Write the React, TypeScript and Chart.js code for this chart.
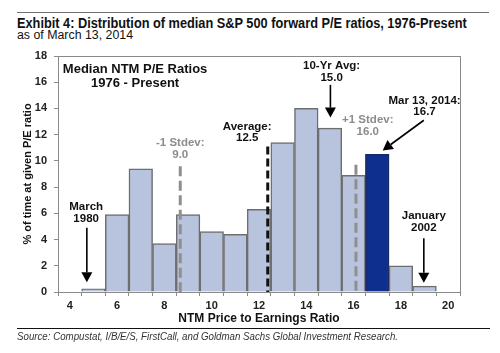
import React, { useEffect, useRef } from "react";
import { Chart, registerables } from "chart.js";

Chart.register(...registerables);

// ---- data ----
const categories = ["4", "5", "6", "7", "8", "9", "10", "11", "12", "13", "14", "15", "16", "17", "18", "19", "20"];
const pctOfTime = [0, 0.25, 5.9, 9.4, 3.7, 5.9, 4.6, 4.4, 6.3, 11.4, 14.0, 12.5, 8.9, 10.5, 2.0, 0.45, 0];
const highlightCategory = "17";
const yTicks = [0, 2, 4, 6, 8, 10, 12, 14, 16, 18];

// reference lines: P/E position and top value
const stdevLow = { at: 8.67, top: 9.6 };
const averageLine = { at: 12.37, top: 11.1 };
const stdevHigh = { at: 16.1, top: 9.7 };

// arrows: from (pe, value) to (pe, value)
const arrowMarch1980 = { from: [4.72, 4.9], to: [4.72, 0.75] };
const arrowTenYr = { from: [15.02, 15.8], to: [15.02, 13.3] };
const arrowMar2014 = { from: [18.97, 13.1], to: [17.23, 10.8] };
const arrowJan2002 = { from: [18.97, 4.1], to: [18.97, 0.7] };

// labels: lines, anchor (pe, value of first line)
const annotationLabels: { lines: string[]; at: [number, number]; gray?: boolean; big?: boolean }[] = [
  { lines: ["Median NTM P/E Ratios", "1976 - Present"], at: [6.76, 17.0], big: true },
  { lines: ["March", "1980"], at: [4.69, 6.48] },
  { lines: ["-1 Stdev:", "9.0"], at: [8.67, 11.37], gray: true },
  { lines: ["Average:", "12.5"], at: [11.5, 12.6] },
  { lines: ["10-Yr Avg:", "15.0"], at: [15.07, 17.24] },
  { lines: ["+1 Stdev:", "16.0"], at: [16.6, 13.12], gray: true },
  { lines: ["Mar 13, 2014:", "16.7"], at: [19.0, 14.6] },
  { lines: ["January", "2002"], at: [18.97, 5.8] },
];

const titleText = "Exhibit 4: Distribution of median S&P 500 forward P/E ratios, 1976-Present";
const subtitleText = "as of March 13, 2014";
const sourceText = "Source: Compustat, I/B/E/S, FirstCall, and Goldman Sachs Global Investment Research.";
const xTitle = "NTM Price to Earnings Ratio";
const yTitle = "% of time at given P/E ratio";

const FONT = "Arial, 'Liberation Sans', sans-serif";

const annotationPlugin = {
  id: "annotations",
  afterDatasetsDraw(chart: any) {
    const { ctx, chartArea, scales } = chart;
    const x = scales.x;
    const y = scales.y;
    const x0 = x.getPixelForValue(0);
    const step = x.getPixelForValue(1) - x0;
    const px = (pe: number) => x0 + (pe - 4) * step;
    const py = (v: number) => y.getPixelForValue(v);

    ctx.save();
    ctx.strokeStyle = "#8a8a8a";
    ctx.lineWidth = 1;
    ctx.strokeRect(chartArea.left + 0.5, chartArea.top + 0.5, chartArea.right - chartArea.left, chartArea.bottom - chartArea.top);

    const dashLine = (l: { at: number; top: number }, color: string, dash: number[]) => {
      ctx.beginPath();
      ctx.setLineDash(dash);
      ctx.strokeStyle = color;
      ctx.lineWidth = 3;
      ctx.moveTo(px(l.at), py(l.top));
      ctx.lineTo(px(l.at), py(0));
      ctx.stroke();
    };
    dashLine(stdevLow, "#8f8f8f", [10, 4.5]);
    dashLine(stdevHigh, "#8f8f8f", [10, 4.5]);
    dashLine(averageLine, "#111111", [8, 4]);
    ctx.setLineDash([]);

    const arrow = (a: { from: number[]; to: number[] }) => {
      const x1 = px(a.from[0]), y1 = py(a.from[1]);
      const x2 = px(a.to[0]), y2 = py(a.to[1]);
      const ang = Math.atan2(y2 - y1, x2 - x1);
      const head = 10;
      const bx = x2 - head * Math.cos(ang), by = y2 - head * Math.sin(ang);
      ctx.strokeStyle = "#000";
      ctx.fillStyle = "#000";
      ctx.lineWidth = 1.6;
      ctx.beginPath();
      ctx.moveTo(x1, y1);
      ctx.lineTo(bx, by);
      ctx.stroke();
      ctx.beginPath();
      ctx.moveTo(x2, y2);
      ctx.lineTo(bx + 5.5 * Math.cos(ang + Math.PI / 2), by + 5.5 * Math.sin(ang + Math.PI / 2));
      ctx.lineTo(bx + 5.5 * Math.cos(ang - Math.PI / 2), by + 5.5 * Math.sin(ang - Math.PI / 2));
      ctx.closePath();
      ctx.fill();
    };
    [arrowMarch1980, arrowTenYr, arrowMar2014, arrowJan2002].forEach(arrow);

    ctx.textAlign = "center";
    ctx.textBaseline = "middle";
    annotationLabels.forEach((lab) => {
      const size = lab.big ? 13 : 11.5;
      const lh = lab.big ? 14 : 11.5;
      ctx.font = `bold ${size}px ${FONT}`;
      ctx.fillStyle = lab.gray ? "#8c8c8c" : "#111";
      lab.lines.forEach((t, i) => {
        ctx.fillText(t, px(lab.at[0]), py(lab.at[1]) + i * lh);
      });
    });
    ctx.restore();
  },
};

function fitScale(text: string, font: string, target: number): number {
  const c = document.createElement("canvas").getContext("2d");
  if (!c) return 1;
  c.font = font;
  const w = c.measureText(text).width;
  return w > 0 ? target / w : 1;
}

export default function App() {
  const canvasRef = useRef<HTMLCanvasElement | null>(null);
  const titleRef = useRef<HTMLDivElement | null>(null);
  const subRef = useRef<HTMLDivElement | null>(null);
  const srcRef = useRef<HTMLDivElement | null>(null);

  useEffect(() => {
    document.body.style.margin = "0";
    if (titleRef.current) titleRef.current.style.transform = `scaleX(${fitScale(titleText, `bold 14px ${FONT}`, 450)})`;
    if (subRef.current) subRef.current.style.transform = `scaleX(${fitScale(subtitleText, `12px ${FONT}`, 116)})`;
    if (srcRef.current) srcRef.current.style.transform = `scaleX(${fitScale(sourceText, `italic 10px ${FONT}`, 381)})`;

    const canvas = canvasRef.current;
    if (!canvas) return;
    const chart = new Chart(canvas, {
      type: "bar",
      data: {
        labels: categories,
        datasets: [
          {
            data: pctOfTime,
            backgroundColor: categories.map((c) => (c === highlightCategory ? "#0f2f8e" : "#b8c4de")),
            borderColor: categories.map((c) => (c === highlightCategory ? "#1b2a5e" : "#6e6e6e")),
            borderWidth: 1.5,
            barPercentage: 1,
            categoryPercentage: 1,
          },
        ],
      },
      options: {
        animation: false,
        responsive: false,
        maintainAspectRatio: false,
        layout: { padding: { top: 56, right: 40, bottom: 25, left: 0 } },
        plugins: { legend: { display: false }, tooltip: { enabled: false } },
        scales: {
          x: {
            grid: { drawOnChartArea: false, drawTicks: true, tickLength: 4, color: "#8a8a8a" },
            border: { color: "#8a8a8a" },
            ticks: {
              autoSkip: false,
              maxRotation: 0,
              padding: 3,
              color: "#222",
              font: { family: FONT, size: 11, weight: "bold" },
              callback: (_v: any, i: number) => (i % 2 === 0 ? categories[i] : ""),
            },
            title: {
              display: true,
              text: xTitle,
              color: "#111",
              font: { family: FONT, size: 12, weight: "bold" },
              padding: { top: 0, bottom: 2 },
            },
            afterFit: (s: any) => {
              s.height = 36;
            },
          },
          y: {
            min: 0,
            max: 18,
            afterBuildTicks: (s: any) => {
              s.ticks = yTicks.map((v) => ({ value: v }));
            },
            grid: { drawOnChartArea: false, drawTicks: true, tickLength: 4, color: "#8a8a8a" },
            border: { color: "#8a8a8a" },
            ticks: {
              padding: 7,
              color: "#222",
              font: { family: FONT, size: 11, weight: "bold" },
            },
            title: {
              display: true,
              text: yTitle,
              color: "#111",
              font: { family: FONT, size: 11, weight: "bold" },
              padding: { top: 21, bottom: 0 },
            },
            afterFit: (s: any) => {
              s.width = 58;
            },
          },
        },
      },
      plugins: [annotationPlugin],
    } as any);
    return () => chart.destroy();
  }, []);

  return (
    <div style={{ position: "relative", width: 500, height: 353, background: "#fff", fontFamily: FONT, overflow: "hidden" }}>
      <div style={{ position: "absolute", left: 17, top: 12, width: 472, height: 0, borderTop: "1.5px solid #707070" }} />
      <div ref={titleRef} style={{ position: "absolute", left: 17, top: 14.5, fontSize: 14, fontWeight: "bold", color: "#111", whiteSpace: "nowrap", lineHeight: "16px", transformOrigin: "0 0" }}>
        {titleText}
      </div>
      <div ref={subRef} style={{ position: "absolute", left: 17, top: 27.5, fontSize: 12, color: "#111", whiteSpace: "nowrap", lineHeight: "14px", transformOrigin: "0 0" }}>
        {subtitleText}
      </div>
      <canvas ref={canvasRef} width={500} height={353} style={{ position: "absolute", left: 0, top: 0 }} />
      <div style={{ position: "absolute", left: 17, top: 328, width: 473, height: 0, borderTop: "1.5px solid #111" }} />
      <div ref={srcRef} style={{ position: "absolute", left: 17, top: 331, fontSize: 10, fontStyle: "italic", color: "#333", whiteSpace: "nowrap", lineHeight: "12px", transformOrigin: "0 0" }}>
        {sourceText}
      </div>
    </div>
  );
}
